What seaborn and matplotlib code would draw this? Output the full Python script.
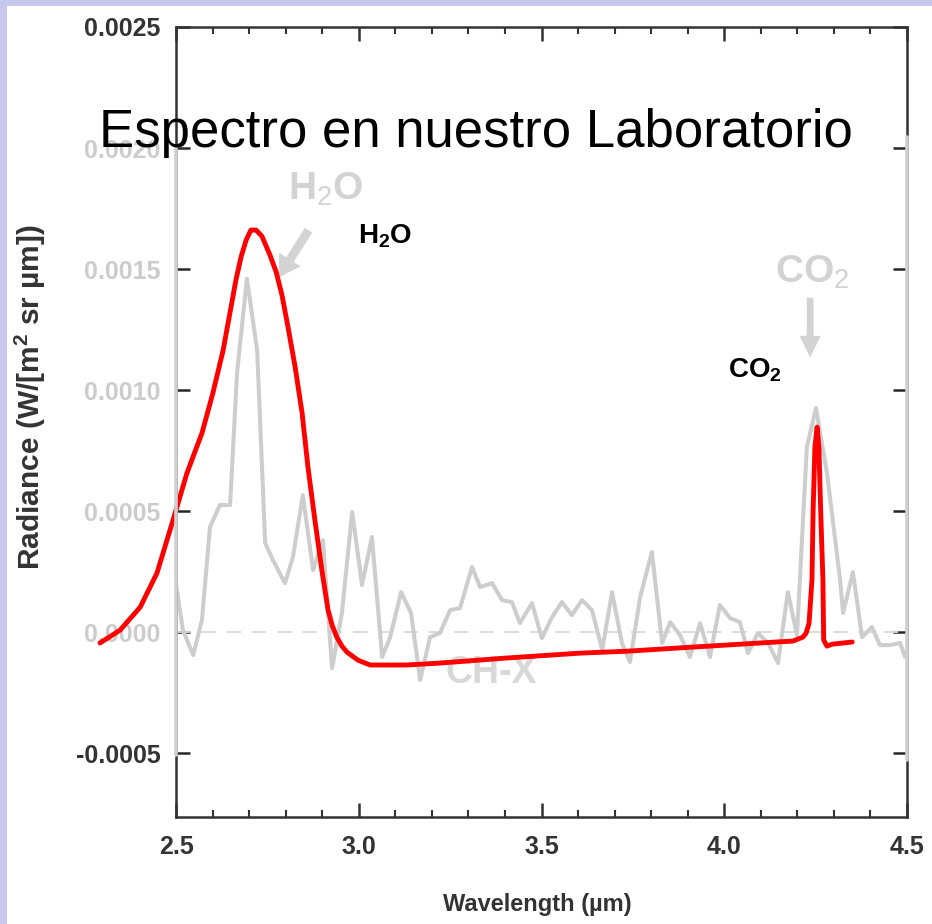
import numpy as np
import pandas as pd
import seaborn as sns
import matplotlib.pyplot as plt
from matplotlib.patches import Rectangle
from matplotlib.ticker import MultipleLocator

# faded background spectrum (grey)
grey_wl = [2.497, 2.519, 2.547, 2.571, 2.593, 2.620, 2.648, 2.667, 2.694, 2.722,
           2.744, 2.765, 2.798, 2.820, 2.847, 2.875, 2.902, 2.927, 2.954, 2.982,
           3.009, 3.036, 3.064, 3.085, 3.116, 3.143, 3.168, 3.195, 3.222, 3.250,
           3.277, 3.310, 3.332, 3.365, 3.392, 3.419, 3.441, 3.474, 3.501, 3.529,
           3.556, 3.583, 3.611, 3.638, 3.666, 3.693, 3.720, 3.742, 3.770, 3.802,
           3.830, 3.852, 3.879, 3.906, 3.934, 3.961, 3.988, 4.016, 4.043, 4.065,
           4.092, 4.120, 4.147, 4.174, 4.199, 4.226, 4.251, 4.281, 4.317, 4.325,
           4.352, 4.377, 4.404, 4.426, 4.453, 4.481, 4.495]
grey_rad = [0.000227, 0.000008, -0.000095, 0.000050, 0.000434, 0.000525, 0.000525, 0.001070, 0.001460, 0.001165,
            0.000368, 0.000298, 0.000202, 0.000310, 0.000566, 0.000256, 0.000380, -0.000149, 0.000079, 0.000496,
            0.000194, 0.000393, -0.000103, -0.000025, 0.000165, 0.000079, -0.000198, -0.000021, -0.000004, 0.000091,
            0.000099, 0.000269, 0.000186, 0.000202, 0.000132, 0.000124, 0.000037, 0.000120, -0.000025, 0.000062,
            0.000124, 0.000070, 0.000132, 0.000091, -0.000074, 0.000165, -0.000045, -0.000124, 0.000145, 0.000331,
            -0.000045, 0.000041, -0.000012, -0.000103, 0.000037, -0.000103, 0.000112, 0.000058, 0.000041, -0.000087,
            -0.000004, -0.000045, -0.000128, 0.000165, -0.000012, 0.000764, 0.000926, 0.000657, 0.000215, 0.000079,
            0.000248, -0.000021, 0.000021, -0.000054, -0.000054, -0.000045, -0.000103]

# lab spectrum (red)
lab_wl = [2.292, 2.347, 2.402, 2.448, 2.492, 2.530, 2.571, 2.601, 2.629, 2.648,
          2.664, 2.678, 2.692, 2.705, 2.719, 2.735, 2.757, 2.774, 2.790, 2.806,
          2.826, 2.845, 2.861, 2.880, 2.899, 2.916, 2.927, 2.940, 2.954, 2.968,
          2.998, 3.031, 3.132, 3.222, 3.406, 3.605, 3.734, 3.914, 4.098, 4.188,
          4.215, 4.224, 4.232, 4.240, 4.243, 4.248, 4.254, 4.259, 4.264, 4.270,
          4.272, 4.281, 4.295, 4.350]
lab_rad = [-0.000045, 0.000008, 0.000103, 0.000244, 0.000463, 0.000657, 0.000822, 0.000988, 0.001165, 0.001322,
           0.001455, 0.001550, 0.001620, 0.001661, 0.001661, 0.001636, 0.001558, 0.001488, 0.001392, 0.001264,
           0.001095, 0.000905, 0.000682, 0.000463, 0.000256, 0.000091, 0.000029, -0.000021, -0.000058, -0.000083,
           -0.000116, -0.000136, -0.000136, -0.000128, -0.000107, -0.000087, -0.000079, -0.000062, -0.000045, -0.000037,
           -0.000021, -0.000004, 0.000037, 0.000215, 0.000492, 0.000764, 0.000847, 0.000764, 0.000492, 0.000215,
           -0.000033, -0.000058, -0.000050, -0.000041]

x_ticks = [2.5, 3.0, 3.5, 4.0, 4.5]
y_ticks = [-0.0005, 0.0000, 0.0005, 0.0010, 0.0015, 0.0020, 0.0025]

sns.set_theme(style="white")
plt.rcParams["font.family"] = ["Liberation Sans", "DejaVu Sans"]
plt.rcParams["mathtext.fontset"] = "custom"
plt.rcParams["mathtext.rm"] = "Liberation Sans"
plt.rcParams["mathtext.bf"] = "Liberation Sans:bold"

dark = "#333333"
faded = "#cccccc"

fig = plt.figure(figsize=(9.32, 9.24), dpi=100, facecolor="#c8c8ec")
fig.patches.append(Rectangle((7 / 932, 0), 1, 1 - 6 / 924, transform=fig.transFigure,
                             facecolor="white", edgecolor="none", zorder=-10))

ax = fig.add_axes([176 / 932, 1 - 817 / 924, 731 / 932, 790 / 924])
ax.set_facecolor("white")

grey_df = pd.DataFrame({"wl": grey_wl, "rad": grey_rad})
lab_df = pd.DataFrame({"wl": lab_wl, "rad": lab_rad})

ax.axhline(0, color="#d9d9d9", lw=1.3, ls=(0, (8, 6)), zorder=1)
sns.lineplot(data=grey_df, x="wl", y="rad", ax=ax, color="#cdcdcd", lw=2.9,
             estimator=None, sort=False, zorder=2)
sns.lineplot(data=lab_df, x="wl", y="rad", ax=ax, color="#ff0000", lw=3.5,
             estimator=None, sort=False, zorder=5)
red_line = ax.lines[-1]
red_line.set_clip_on(False)
red_line.set_solid_joinstyle("round")

ax.set_xlim(2.5, 4.5)
ax.set_ylim(-0.000764, 0.0025)
ax.set_xticks(x_ticks)
ax.set_xticklabels([f"{v:.1f}" for v in x_ticks])
ax.xaxis.set_minor_locator(MultipleLocator(0.1))
ax.set_yticks(y_ticks)
ax.set_yticklabels([f"{v:.4f}" for v in y_ticks])

ax.tick_params(axis="x", which="major", direction="in", top=True, bottom=True,
               length=10, width=1.8, color=dark, pad=13, labelsize=18, labelcolor=dark)
ax.tick_params(axis="x", which="minor", direction="in", top=True, bottom=True,
               length=5, width=1.5, color=dark)
ax.tick_params(axis="y", which="major", direction="in", left=True, right=True,
               length=10, width=1.8, pad=11, labelsize=18)
for lab in ax.get_xticklabels():
    lab.set_fontweight("bold")

for tick, val in zip(ax.yaxis.get_major_ticks(), y_ticks):
    c = dark if val in (-0.0005, 0.0025) else faded
    tick.tick1line.set_color(c)
    tick.tick2line.set_color(c)
    tick.label1.set_color(c)
    tick.label1.set_fontweight("bold")

for side in ["left", "right", "top", "bottom"]:
    ax.spines[side].set_visible(True)
    ax.spines[side].set_color(dark)
    ax.spines[side].set_linewidth(1.8)
# faded middle part of the side frames
ax.axvline(2.5, ymin=0.078, ymax=0.847, color="#d0d0d0", lw=2.6, clip_on=False, zorder=6)
ax.axvline(4.5, ymin=0.072, ymax=0.861, color="#d0d0d0", lw=2.6, clip_on=False, zorder=6)

ax.set_xlabel("Wavelength (µm)", fontsize=17, fontweight="bold", color=dark)
ax.xaxis.set_label_coords(0.494, -0.096)
ax.set_ylabel(r"Radiance (W/[m$^{\mathbf{2}}$ sr µm])", fontsize=21.5, fontweight="bold", color=dark)
ax.yaxis.set_label_coords(-0.175, 0.531)

# faded labels of the original figure
ax.text(2.806, 0.001785, "H$_2$O", fontsize=28, fontweight="bold", color="#d3d3d3",
        ha="left", va="baseline", zorder=1)
ax.text(4.139, 0.001442, "CO$_2$", fontsize=28, fontweight="bold", color="#d3d3d3",
        ha="left", va="baseline", zorder=1)
ax.text(3.236, -0.00021, "CH-X", fontsize=27, fontweight="bold", color="#d8d8d8",
        ha="left", va="baseline", zorder=1)
ax.annotate("", xy=(2.776, 0.001455), xytext=(2.867, 0.00167),
            arrowprops=dict(arrowstyle="simple,head_length=1.1,head_width=1.3,tail_width=0.45",
                            color="#d3d3d3", lw=0, mutation_scale=14), zorder=1)
ax.annotate("", xy=(4.235, 0.001124), xytext=(4.235, 0.001393),
            arrowprops=dict(arrowstyle="simple,head_length=1.1,head_width=1.1,tail_width=0.35",
                            color="#d3d3d3", lw=0, mutation_scale=14), zorder=1)

# labels of the lab spectrum
ax.text(2.998, 0.001607, r"H$_\mathbf{2}$O", fontsize=20, fontweight="bold", color="black",
        ha="left", va="baseline", zorder=7)
ax.text(4.010, 0.001054, r"CO$_\mathbf{2}$", fontsize=20, fontweight="bold", color="black",
        ha="left", va="baseline", zorder=7)

fig.text(0.511, 1 - 147 / 924, "Espectro en nuestro Laboratorio", fontsize=38,
         color="black", ha="center", va="baseline", zorder=10)

fig.savefig("out.png", dpi=100, facecolor=fig.get_facecolor())
